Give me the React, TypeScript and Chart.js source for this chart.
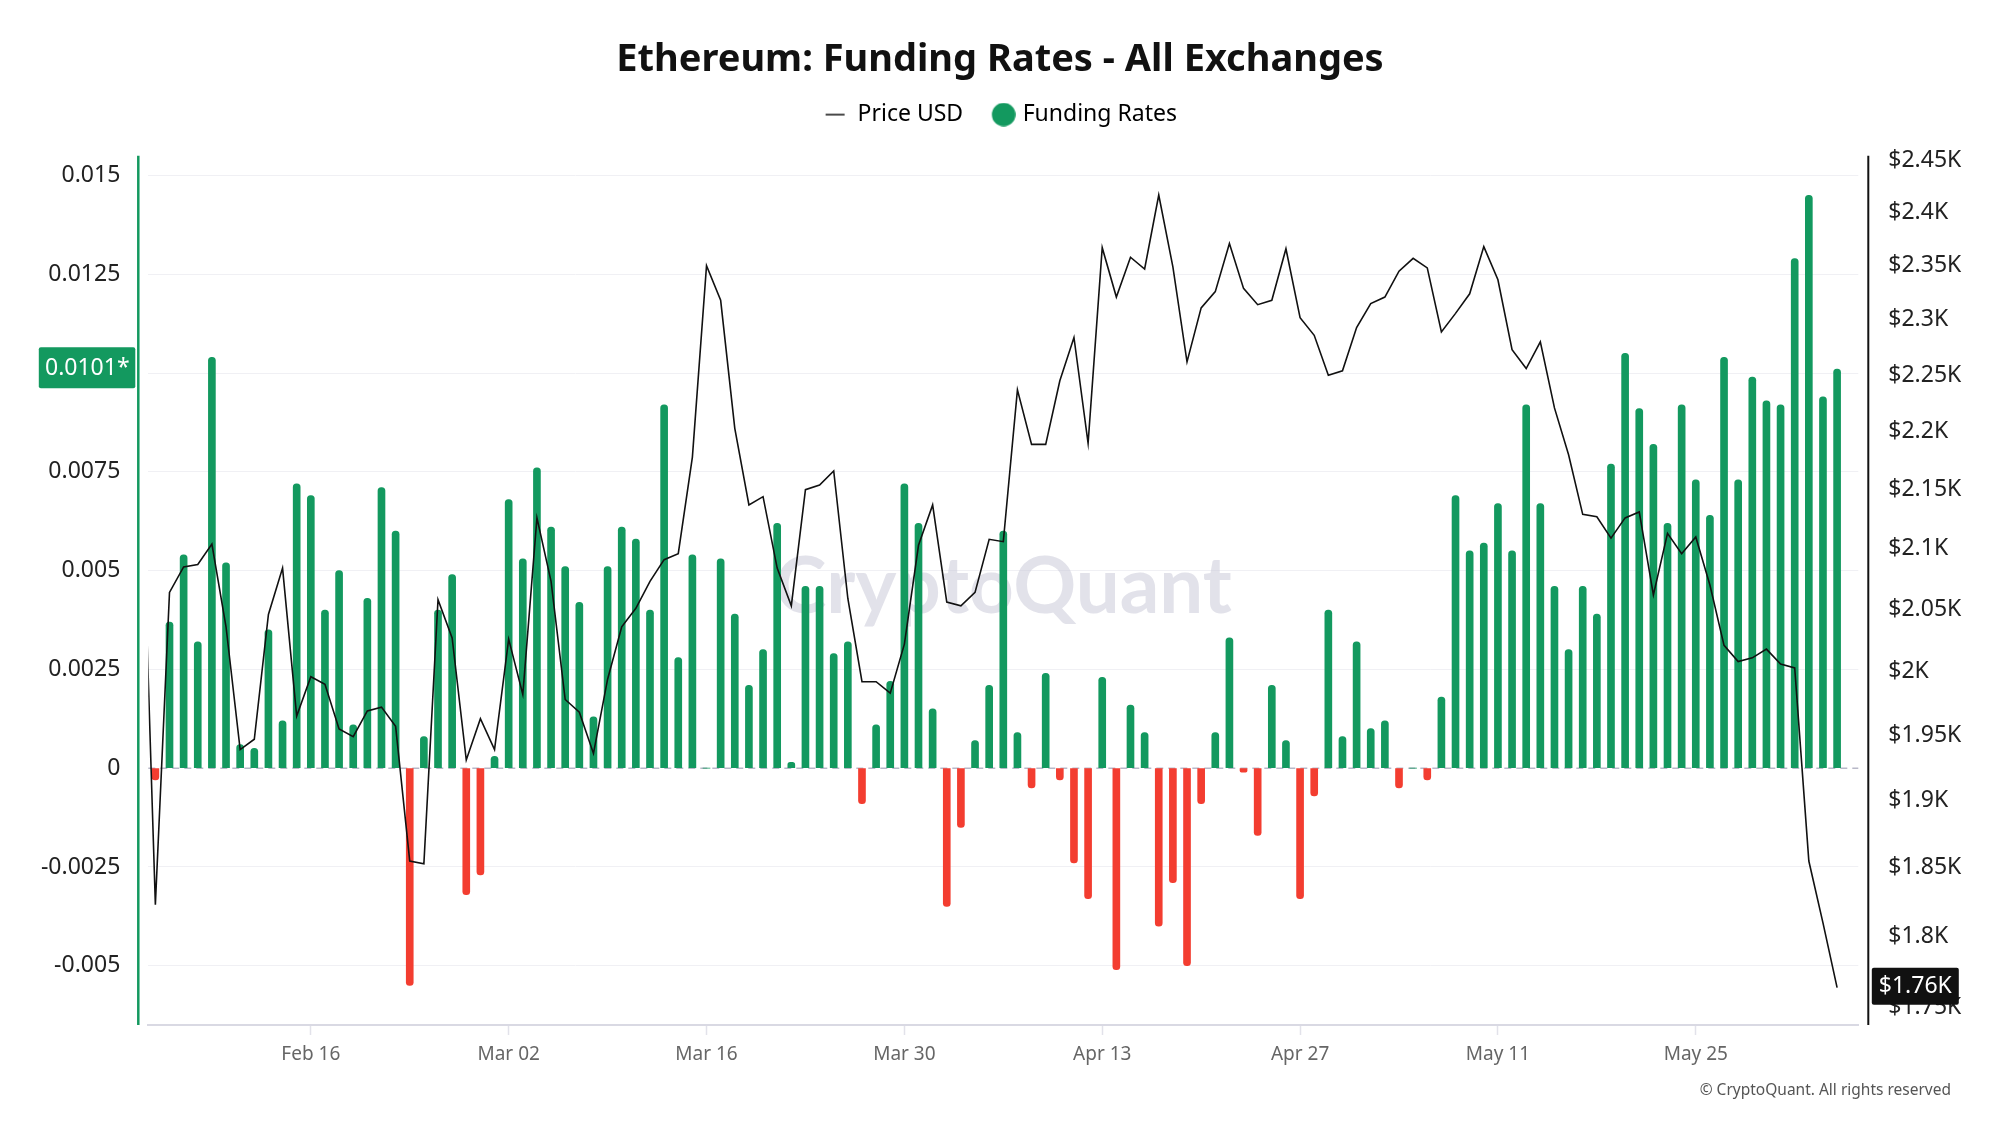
import React, { useEffect, useRef } from 'react';
import { Chart, registerables, layouts } from 'chart.js';

Chart.register(...registerables);

// Funding rates, one bar per day from Feb 05 (index 0) to Jun 04 (index 119)
const fundingRates: number[] = [
  -0.0003, 0.0037, 0.0054, 0.0032, 0.0104, 0.0052, 0.0006, 0.0005, 0.0035, 0.0012,
  0.0072, 0.0069, 0.0040, 0.0050, 0.0011, 0.0043, 0.0071, 0.0060, -0.0055, 0.0008,
  0.0040, 0.0049, -0.0032, -0.0027, 0.0003, 0.0068, 0.0053, 0.0076, 0.0061, 0.0051,
  0.0042, 0.0013, 0.0051, 0.0061, 0.0058, 0.0040, 0.0092, 0.0028, 0.0054, 0.0,
  0.0053, 0.0039, 0.0021, 0.0030, 0.0062, 0.00015, 0.0046, 0.0046, 0.0029, 0.0032,
  -0.0009, 0.0011, 0.0022, 0.0072, 0.0062, 0.0015, -0.0035, -0.0015, 0.0007, 0.0021,
  0.0060, 0.0009, -0.0005, 0.0024, -0.0003, -0.0024, -0.0033, 0.0023, -0.0051, 0.0016,
  0.0009, -0.0040, -0.0029, -0.0050, -0.0009, 0.0009, 0.0033, -0.0001, -0.0017, 0.0021,
  0.0007, -0.0033, -0.0007, 0.0040, 0.0008, 0.0032, 0.0010, 0.0012, -0.0005, 0.0,
  -0.0003, 0.0018, 0.0069, 0.0055, 0.0057, 0.0067, 0.0055, 0.0092, 0.0067, 0.0046,
  0.0030, 0.0046, 0.0039, 0.0077, 0.0105, 0.0091, 0.0082, 0.0062, 0.0092, 0.0073,
  0.0064, 0.0104, 0.0073, 0.0099, 0.0093, 0.0092, 0.0129, 0.0145, 0.0094, 0.0101,
];

// ETH price in USD, daily from Feb 04 (index -1, clipped at the left edge) to Jun 04
const priceUSD: number[] = [
  2180,
  1823, 2064, 2085, 2087, 2104, 2036, 1939, 1947, 2046, 2084,
  1965, 1996, 1990, 1955, 1949, 1969, 1972, 1957, 1855, 1853,
  2058, 2027, 1931, 1963, 1939, 2026, 1982, 2126, 2073, 1978,
  1968, 1936, 1994, 2036, 2051, 2073, 2091, 2096, 2178, 2350,
  2318, 2203, 2137, 2144, 2084, 2053, 2150, 2154, 2166, 2059,
  1992, 1992, 1983, 2022, 2103, 2137, 2056, 2053, 2064, 2108,
  2106, 2237, 2189, 2189, 2245, 2284, 2190, 2367, 2321, 2358,
  2347, 2417, 2349, 2262, 2311, 2326, 2371, 2329, 2314, 2318,
  2366, 2302, 2286, 2250, 2254, 2293, 2315, 2321, 2345, 2357,
  2348, 2289, 2306, 2324, 2368, 2337, 2273, 2256, 2280, 2221,
  2180, 2129, 2127, 2109, 2126, 2131, 2062, 2113, 2096, 2110,
  2070, 2021, 2008, 2011, 2018, 2006, 2003, 1855, 1810, 1764,
];

const xTickDays: number[] = [11, 25, 39, 53, 67, 81, 95, 109];
const xTickLabels: string[] = ['Feb 16', 'Mar 02', 'Mar 16', 'Mar 30', 'Apr 13', 'Apr 27', 'May 11', 'May 25'];
const fundingTicks: number[] = [-0.005, -0.0025, 0, 0.0025, 0.005, 0.0075, 0.01, 0.0125, 0.015];
const priceTicks: number[] = [1750, 1800, 1850, 1900, 1950, 2000, 2050, 2100, 2150, 2200, 2250, 2300, 2350, 2400, 2450];

const GREEN = '#13995f';
const RED = '#f33d30';
const FONT = "'Noto Sans', 'Open Sans', sans-serif";

function makeLineMarker(): HTMLCanvasElement {
  const c = document.createElement('canvas');
  c.width = 24; c.height = 24;
  const g = c.getContext('2d')!;
  g.fillStyle = '#4a4a4a';
  g.fillRect(3, 11, 19, 2);
  return c;
}
function makeCircleMarker(): HTMLCanvasElement {
  const c = document.createElement('canvas');
  c.width = 32; c.height = 24;
  const g = c.getContext('2d')!;
  g.fillStyle = GREEN;
  g.beginPath();
  g.arc(20, 12, 11.8, 0, Math.PI * 2);
  g.fill();
  return c;
}

const spacerPlugin = {
  id: 'legendSpacer',
  beforeInit(chart: any) {
    const box: any = {
      position: 'top', weight: 1, fullSize: true,
      options: {},
      top: 0, left: 0, right: 0, bottom: 0, width: 0, height: 0,
      isHorizontal() { return true; },
      update(maxWidth: number) { this.width = maxWidth; this.height = 19.7; },
      draw() {},
    };
    layouts.addBox(chart, box);
  },
};

function roundRect(ctx: CanvasRenderingContext2D, x: number, y: number, w: number, h: number, r: number) {
  ctx.beginPath();
  ctx.moveTo(x + r, y);
  ctx.lineTo(x + w - r, y);
  ctx.quadraticCurveTo(x + w, y, x + w, y + r);
  ctx.lineTo(x + w, y + h - r);
  ctx.quadraticCurveTo(x + w, y + h, x + w - r, y + h);
  ctx.lineTo(x + r, y + h);
  ctx.quadraticCurveTo(x, y + h, x, y + h - r);
  ctx.lineTo(x, y + r);
  ctx.quadraticCurveTo(x, y, x + r, y);
  ctx.closePath();
}

const decorPlugin = {
  id: 'decor',
  beforeDatasetsDraw(chart: any) {
    const { ctx, chartArea: a, scales } = chart;
    ctx.save();
    ctx.font = `bold 78px Lato, ${FONT}`;
    ctx.fillStyle = 'rgba(198,198,214,0.5)';
    ctx.textAlign = 'center';
    ctx.textBaseline = 'alphabetic';
    ctx.fillText('CryptoQuant', (a.left + a.right) / 2, (a.top + a.bottom) / 2 + 23);
    const y0 = scales.y.getPixelForValue(0);
    ctx.strokeStyle = '#b8b8c8';
    ctx.lineWidth = 1.5;
    ctx.setLineDash([7, 5]);
    ctx.beginPath();
    ctx.moveTo(a.left, y0);
    ctx.lineTo(a.right, y0);
    ctx.stroke();
    ctx.restore();
  },
  afterDraw(chart: any) {
    const { ctx, chartArea: a, scales } = chart;
    ctx.save();
    // left axis line (green)
    ctx.strokeStyle = GREEN;
    ctx.lineWidth = 2.5;
    ctx.beginPath();
    ctx.moveTo(a.left - 10, a.top);
    ctx.lineTo(a.left - 10, a.bottom);
    ctx.stroke();
    // right axis line (black)
    ctx.strokeStyle = '#111';
    ctx.lineWidth = 2;
    ctx.beginPath();
    ctx.moveTo(a.right + 10, a.top);
    ctx.lineTo(a.right + 10, a.bottom);
    ctx.stroke();

    // last funding rate badge
    const lastRate = fundingRates[fundingRates.length - 1];
    const yr = scales.y.getPixelForValue(lastRate);
    ctx.fillStyle = GREEN;
    roundRect(ctx, a.left - 109.5, yr - 22, 96.5, 41, 2);
    ctx.fill();
    ctx.fillStyle = '#ffffff';
    ctx.font = `23px ${FONT}`;
    ctx.textAlign = 'center';
    ctx.textBaseline = 'middle';
    ctx.fillText(lastRate.toFixed(4) + '*', a.left - 61, yr - 1);

    // last price badge
    const lastPrice = priceUSD[priceUSD.length - 1];
    const yp = scales.yPrice.getPixelForValue(lastPrice);
    ctx.fillStyle = '#111';
    roundRect(ctx, a.right + 13.5, yp - 20, 87, 37, 2);
    ctx.fill();
    ctx.fillStyle = '#ffffff';
    ctx.fillText('$' + (lastPrice / 1000).toFixed(2) + 'K', a.right + 57, yp - 1);

    // copyright
    ctx.fillStyle = '#555';
    ctx.font = `15.5px ${FONT}`;
    ctx.textAlign = 'right';
    ctx.fillText('\u00A9 CryptoQuant. All rights reserved', chart.width - 49, 1091);
    ctx.restore();
  },
};

function fmtRate(v: number): string {
  return String(Number(v.toPrecision(6)));
}

export default function App() {
  const ref = useRef<HTMLCanvasElement | null>(null);

  useEffect(() => {
    document.body.style.margin = '0';
    document.body.style.overflow = 'hidden';
    const canvas = ref.current;
    if (!canvas) return;
    const lineMarker = makeLineMarker();
    const circleMarker = makeCircleMarker();

    const chart = new Chart(canvas, {
      type: 'bar',
      data: {
        datasets: [
          {
            type: 'line',
            label: 'Price USD',
            data: priceUSD.map((v, i) => ({ x: i - 1, y: v })),
            yAxisID: 'yPrice',
            xAxisID: 'x',
            borderColor: '#111111',
            borderWidth: 1.6,
            pointRadius: 0,
            tension: 0,
            order: 1,
          } as any,
          {
            type: 'bar',
            label: 'Funding Rates',
            data: fundingRates.map((v, i) => ({ x: i, y: v })),
            yAxisID: 'y',
            xAxisID: 'x',
            backgroundColor: (c: any) => ((c.raw && c.raw.y < 0) ? RED : GREEN),
            barThickness: 7,
            borderRadius: 4,
            borderSkipped: 'start',
            order: 2,
          } as any,
        ],
      },
      options: {
        responsive: false,
        animation: false,
        layout: { padding: 0 },
        font: { family: FONT },
        plugins: {
          title: {
            display: true,
            text: 'Ethereum: Funding Rates - All Exchanges',
            color: '#111',
            font: { family: FONT, size: 38, weight: 'bold', lineHeight: 0.95 },
            padding: { top: 42, bottom: 0 },
          },
          legend: {
            display: true,
            position: 'top',
            labels: {
              usePointStyle: true,
              boxWidth: 23,
              boxHeight: 23,
              padding: 25,
              color: '#222',
              font: { family: FONT, size: 23 },
              generateLabels: () => [
                { text: 'Price USD', pointStyle: lineMarker, fillStyle: '#444', strokeStyle: '#444', lineWidth: 0, hidden: false, datasetIndex: 0 } as any,
                { text: 'Funding Rates', pointStyle: circleMarker, fillStyle: GREEN, strokeStyle: GREEN, lineWidth: 0, hidden: false, datasetIndex: 1 } as any,
              ],
            },
          },
          tooltip: { enabled: false },
        },
        scales: {
          x: {
            type: 'linear',
            offset: false,
            min: -0.5,
            max: 120.5,
            afterBuildTicks: (s: any) => { s.ticks = xTickDays.map((v) => ({ value: v })); },
            afterFit: (s: any) => { s.height = 100; },
            ticks: {
              autoSkip: false,
              maxRotation: 0,
              padding: 8,
              color: '#666',
              font: { family: FONT, size: 19 },
              callback: (v: any) => {
                const k = xTickDays.indexOf(Number(v));
                return k >= 0 ? xTickLabels[k] : '';
              },
            },
            grid: { offset: false, drawOnChartArea: false, drawTicks: true, tickLength: 10, tickColor: '#e2e2ea', tickWidth: 1.5 },
            border: { display: true, color: '#d9d9e3', width: 2 },
          },
          y: {
            type: 'linear',
            position: 'left',
            min: -0.0065,
            max: 0.0155,
            afterBuildTicks: (s: any) => { s.ticks = fundingTicks.map((v) => ({ value: v })); },
            afterFit: (s: any) => { s.width = 148.3; },
            ticks: {
              autoSkip: false,
              padding: 28,
              color: '#222',
              font: { family: FONT, size: 23 },
              callback: (v: any) => fmtRate(Number(v)),
            },
            grid: {
              drawTicks: false,
              lineWidth: 1,
              color: (c: any) => (c.tick && Math.abs(c.tick.value) < 1e-9 ? 'rgba(0,0,0,0)' : '#f0f0f4'),
            },
            border: { display: false },
          },
          yPrice: {
            type: 'logarithmic',
            position: 'right',
            min: 1738,
            max: 2455,
            afterBuildTicks: (s: any) => { s.ticks = priceTicks.map((v) => ({ value: v })); },
            afterFit: (s: any) => { s.width = 141.7; },
            ticks: {
              autoSkip: false,
              padding: 30,
              color: '#222',
              font: { family: FONT, size: 23 },
              callback: (v: any) => '$' + String(Number((Number(v) / 1000).toFixed(2))) + 'K',
            },
            grid: { drawOnChartArea: false, drawTicks: false },
            border: { display: false },
          },
        },
      } as any,
      plugins: [spacerPlugin, decorPlugin] as any,
    });

    return () => {
      chart.destroy();
    };
  }, []);

  return (
    <div style={{ position: 'absolute', left: 0, top: 0, width: 2000, height: 1125, background: '#ffffff' }}>
      <canvas ref={ref} width={2000} height={1125} style={{ display: 'block', width: 2000, height: 1125 }} />
    </div>
  );
}
